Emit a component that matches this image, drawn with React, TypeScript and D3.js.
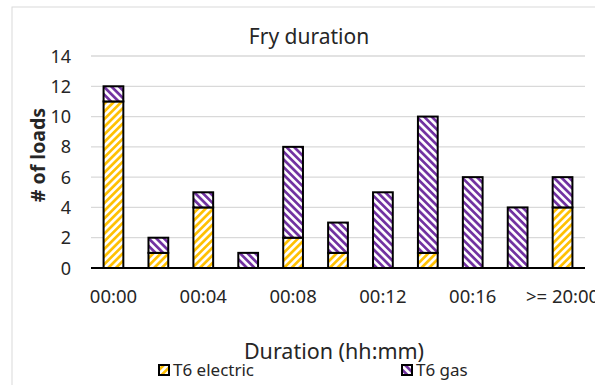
import React from "react";
import * as d3 from "d3";

const categories = ["00:00", "00:02", "00:04", "00:06", "00:08", "00:10", "00:12", "00:14", "00:16", "00:18", ">= 20:00"];
const tickLabels = ["00:00", "00:04", "00:08", "00:12", "00:16", ">= 20:00"];
const electric = [11, 1, 4, 0, 2, 1, 0, 1, 0, 0, 4];
const gas = [1, 1, 1, 1, 6, 2, 5, 9, 6, 4, 2];
const yTicks = [0, 2, 4, 6, 8, 10, 12, 14];
const seriesNames = ["T6 electric", "T6 gas"];

const W = 595;
const H = 385;
const FONT = "'Noto Sans', 'Open Sans', sans-serif";
const YELLOW = "#FFC000";
const PURPLE = "#7030A0";
const TEXT = "#262626";

export default function App() {
  const x = d3
    .scaleBand<string>()
    .domain(categories)
    .range([91, 585])
    .paddingInner(0.56)
    .paddingOuter(0.28);
  const y = d3.scaleLinear().domain([0, 14]).range([268, 56]);

  const rows = categories.map((c, i) => ({ cat: c, electric: electric[i], gas: gas[i] }));
  const stacked = d3.stack<any>().keys(["electric", "gas"])(rows);
  const fills = ["url(#hatchElectric)", "url(#hatchGas)"];
  const P = 5.4;

  return (
    <div style={{ position: "fixed", left: 0, top: 0 }}>
      <svg width={W} height={H} style={{ display: "block", background: "#fff" }}>
        <defs>
          <pattern id="hatchElectric" patternUnits="userSpaceOnUse" width={P} height={P} patternTransform="rotate(45)">
            <rect width={P} height={P} fill="#fff" />
            <line x1={1.4} y1={0} x2={1.4} y2={P} stroke={YELLOW} strokeWidth={2.7} />
          </pattern>
          <pattern id="hatchGas" patternUnits="userSpaceOnUse" width={P} height={P} patternTransform="rotate(-45)">
            <rect width={P} height={P} fill="#fff" />
            <line x1={1.4} y1={0} x2={1.4} y2={P} stroke={PURPLE} strokeWidth={2.7} />
          </pattern>
        </defs>

        {/* chart frame */}
        <rect x={12} y={7} width={640} height={420} fill="#fff" stroke="#d9d9d9" strokeWidth={1} />

        {/* title */}
        <text x={309} y={44} textAnchor="middle" fontFamily={FONT} fontSize={21} fill={TEXT}>
          Fry duration
        </text>

        {/* gridlines */}
        {yTicks.filter((t) => t > 0).map((t) => (
          <line key={t} x1={91} x2={585} y1={y(t)} y2={y(t)} stroke="#d9d9d9" strokeWidth={1.3} />
        ))}

        {/* y tick labels */}
        {yTicks.map((t) => (
          <text key={t} x={71} y={y(t) + 6.5} textAnchor="end" fontFamily={FONT} fontSize={18} fill={TEXT}>
            {t}
          </text>
        ))}

        {/* stacked bars */}
        {stacked.map((s, si) =>
          s.map((d: any, i: number) =>
            d[1] - d[0] > 0 ? (
              <rect
                key={`${si}-${i}`}
                x={x(categories[i])}
                width={x.bandwidth()}
                y={y(d[1])}
                height={y(d[0]) - y(d[1])}
                fill={fills[si]}
                stroke="#000"
                strokeWidth={2}
              />
            ) : null
          )
        )}

        {/* baseline */}
        <line x1={91} x2={585} y1={y(0)} y2={y(0)} stroke="#000" strokeWidth={2} />

        {/* x tick labels */}
        {tickLabels.map((t) => (
          <text
            key={t}
            x={(x(t) as number) + x.bandwidth() / 2}
            y={303}
            textAnchor="middle"
            fontFamily={FONT}
            fontSize={18.5}
            fill={TEXT}
          >
            {t}
          </text>
        ))}

        {/* axis titles */}
        <text
          transform={`translate(45,155) rotate(-90)`}
          textAnchor="middle"
          fontFamily={FONT}
          fontSize={19.5}
          fontWeight="bold"
          fill={TEXT}
        >
          # of loads
        </text>
        <text x={334} y={359} textAnchor="middle" fontFamily={FONT} fontSize={21.5} fill={TEXT}>
          Duration (hh:mm)
        </text>

        {/* legend */}
        {seriesNames.map((name, i) => {
          const lx = i === 0 ? 159 : 402;
          return (
            <g key={name}>
              <rect x={lx} y={365} width={10} height={10} fill={fills[i]} stroke="#000" strokeWidth={2} />
              <text x={lx + 14} y={375.5} fontFamily={FONT} fontSize={17} fill={TEXT}>
                {name}
              </text>
            </g>
          );
        })}
      </svg>
    </div>
  );
}
